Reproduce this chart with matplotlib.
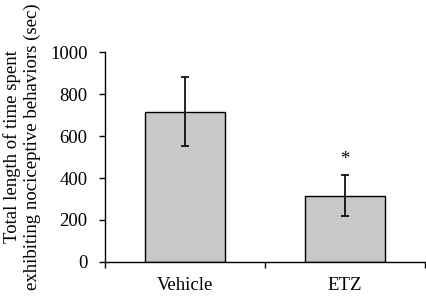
import numpy as np
import matplotlib.pyplot as plt

plt.rcParams['font.family'] = ['Liberation Serif', 'DejaVu Serif']

groups = ['Vehicle', 'ETZ']
means = [716, 316]
errors = [165, 97]
signif = ['', '*']

fig = plt.figure(figsize=(4.27, 3.03), dpi=100)
ax = fig.add_axes([105 / 427, 1 - 262 / 303, 320 / 427, 210 / 303])

x = np.arange(len(groups))
ax.bar(x, means, width=0.5, color='#c8c8c8', edgecolor='black', linewidth=1, zorder=2)
ax.errorbar(x, means, yerr=errors, fmt='none', ecolor='black', elinewidth=1.2,
            capsize=2.7, capthick=1.2, zorder=3)
for xi, m, e, s in zip(x, means, errors, signif):
    if s:
        ax.text(xi, m + e + 35, s, ha='center', va='bottom', fontsize=13.5)

ax.set_xlim(-0.5, 1.5)
ax.set_ylim(0, 1000)
ax.set_yticks(np.arange(0, 1001, 200))
ax.set_xticks([-0.5, 0.5, 1.5])
ax.set_xticklabels([])
ax.set_xticks(x, minor=True)
ax.set_xticklabels(groups, minor=True)
ax.tick_params(axis='x', which='minor', length=0, pad=11, labelsize=13.5)
ax.tick_params(axis='x', which='major', length=4, direction='out', width=1)
ax.tick_params(axis='y', length=4.5, direction='out', width=1, labelsize=13.5, pad=8)

for side in ['top', 'right']:
    ax.spines[side].set_visible(False)
for side in ['left', 'bottom']:
    ax.spines[side].set_linewidth(1)

fig.text(12 / 427, 1 - 147 / 303, 'Total length of time spent', rotation=90,
         ha='center', va='center', fontsize=13.5)
fig.text(32 / 427, 1 - 147 / 303, 'exhibiting nociceptive behaviors (sec)', rotation=90,
         ha='center', va='center', fontsize=13.5)

fig.savefig('out.png', dpi=100)
